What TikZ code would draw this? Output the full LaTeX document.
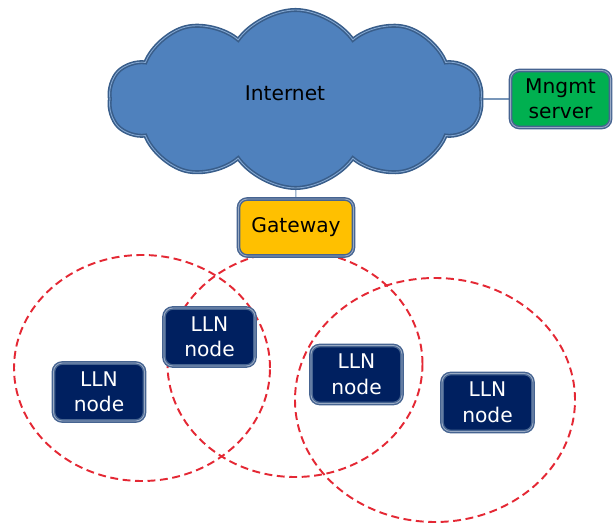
\documentclass[tikz,border=0pt]{standalone}
\usepackage{fontspec}
\setmainfont{DejaVu Sans}
\usepackage{tikz}
\usetikzlibrary{shapes.symbols,positioning,backgrounds}
\definecolor{cloudcolor}{RGB}{79,129,189}
\definecolor{cloudedge}{RGB}{56,93,138}
\definecolor{gatecolor}{RGB}{255,192,0}
\definecolor{servercolor}{RGB}{0,176,80}
\definecolor{llncolor}{RGB}{0,32,96}
\definecolor{boxedge}{RGB}{70,100,145}
\definecolor{rangecolor}{RGB}{228,40,52}
\definecolor{linkcolor}{RGB}{120,150,185}

\begin{document}
\begin{tikzpicture}[
    font=\fontsize{11.5}{14.5}\selectfont,
    box/.style={rectangle, rounded corners=5pt, align=center, draw=boxedge, double=boxedge!55, double distance=0.5pt, line width=0.8pt},
    gate/.style={box, fill=gatecolor, minimum width=2.3cm, minimum height=1.14cm},
    server/.style={box, fill=servercolor, minimum width=2cm, minimum height=1.14cm},
    lln/.style={box, fill=llncolor, text=white, minimum width=1.82cm, minimum height=1.16cm},
    radiorange/.style={draw=rangecolor, line width=1.1pt, dash pattern=on 4.5pt off 2.6pt},
    link/.style={draw=linkcolor, line width=0.6pt}
]
    \useasboundingbox (0,0) rectangle (12.3,10.48);

    % Radio ranges
    \draw[radiorange] (2.84,3.12) ellipse (2.56cm and 2.26cm);
    \draw[radiorange] (5.90,3.20) ellipse (2.55cm and 2.26cm);
    \draw[radiorange] (8.70,2.48) ellipse (2.80cm and 2.44cm);

    % Internet
    \node[cloud, cloud puffs=10, cloud puff arc=110, cloud ignores aspect,
          minimum width=7.46cm, minimum height=3.56cm, fill=cloudcolor,
          draw=cloudedge, double=cloudcolor!70!white, double distance=0.5pt,
          line width=0.9pt] (internet) at (5.91,8.50) {};
    \node at (5.70,8.62) {Internet};

    % Gateway and server
    \node[gate] (gateway) at (5.92,5.93) {Gateway};
    \node[server, right=0.56cm of internet] (mngmt) {Mngmt\\server};

    % LLN nodes
    \node[lln] (lln1) at (1.98,2.64) {LLN\\node};
    \node[lln] (lln2) at (4.19,3.74) {LLN\\node};
    \node[lln] (lln3) at (7.13,2.99) {LLN\\node};
    \node[lln] (lln4) at (9.75,2.43) {LLN\\node};

    % Links (behind the cloud)
    \begin{scope}[on background layer]
        \draw[link] (internet.center) -- (gateway);
        \draw[link] (internet) -- (mngmt);
    \end{scope}
\end{tikzpicture}
\end{document}
